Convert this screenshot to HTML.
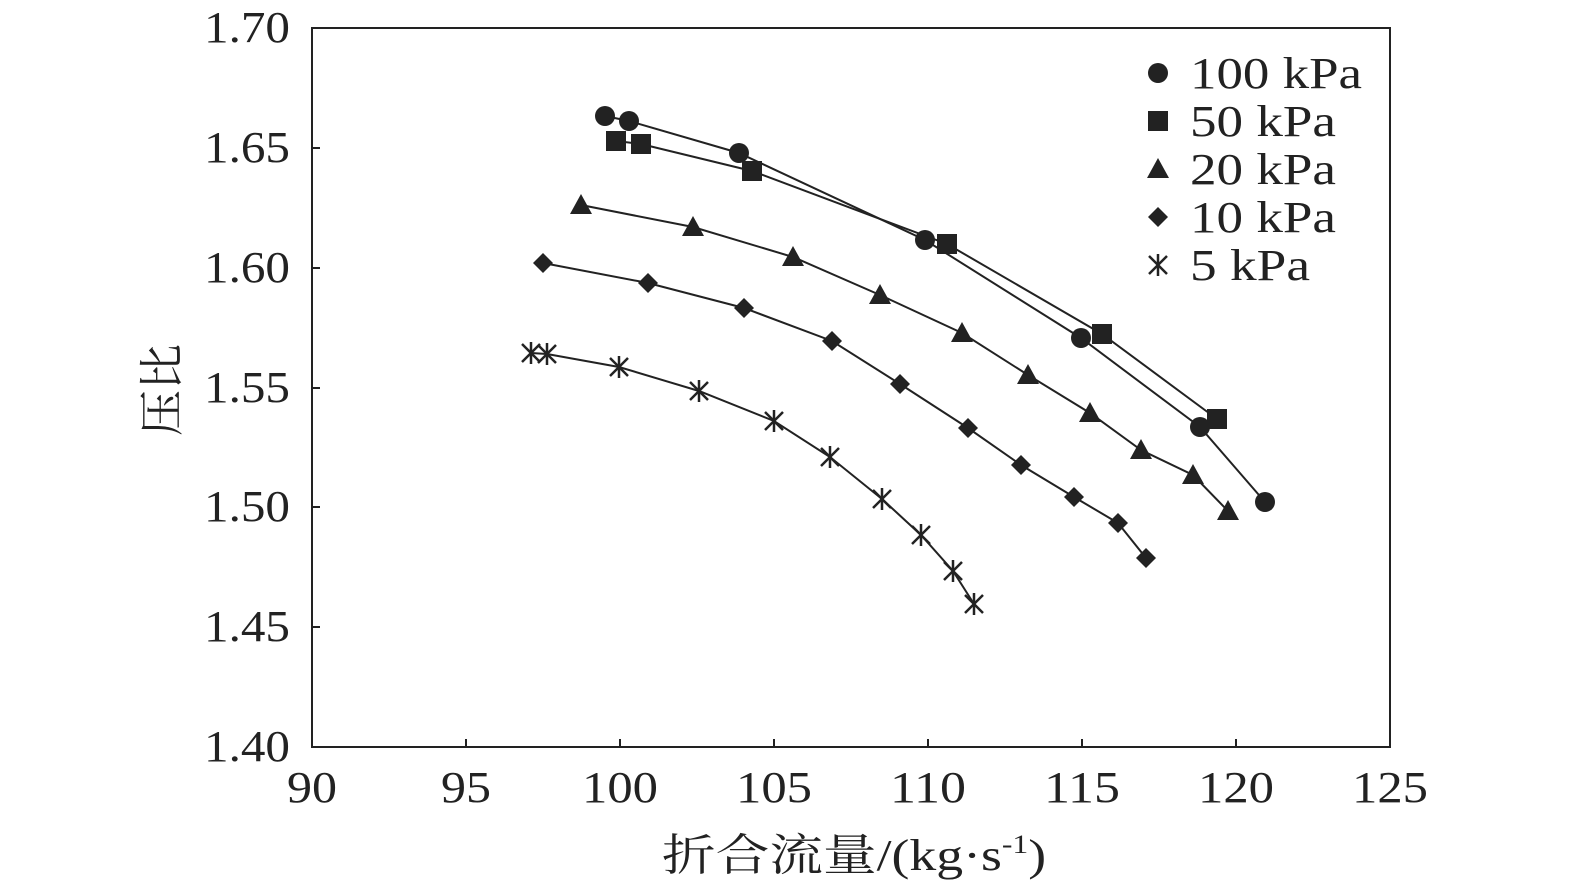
<!DOCTYPE html>
<html><head><meta charset="utf-8"><style>
body{margin:0;background:#fff}
text{font-family:"Liberation Serif","Noto Serif CJK SC",serif;fill:#222}
</style></head><body>
<svg width="1575" height="888" viewBox="0 0 1575 888" xmlns="http://www.w3.org/2000/svg">
<defs>
<g id="c"><circle r="10" fill="#222"/></g>
<g id="s"><rect x="-10" y="-10" width="20" height="20" fill="#222"/></g>
<g id="t"><polygon points="0,-11 11,9 -11,9" fill="#222"/></g>
<g id="d"><polygon points="0,-10 10,0 0,10 -10,0" fill="#222"/></g>
<g id="x" stroke="#222" stroke-width="2.5"><line x1="-9" y1="-9" x2="9" y2="9"/><line x1="-9" y1="9" x2="9" y2="-9"/><line x1="0" y1="-11" x2="0" y2="11"/></g>
</defs>
<rect x="312" y="28" width="1078" height="719" fill="none" stroke="#222" stroke-width="2"/>
<g stroke="#222" stroke-width="2">
<line x1="466" y1="747" x2="466" y2="739"/><line x1="620" y1="747" x2="620" y2="739"/><line x1="774" y1="747" x2="774" y2="739"/><line x1="928" y1="747" x2="928" y2="739"/><line x1="1082" y1="747" x2="1082" y2="739"/><line x1="1236" y1="747" x2="1236" y2="739"/>
<line x1="312" y1="148" x2="320" y2="148"/><line x1="312" y1="268" x2="320" y2="268"/><line x1="312" y1="388" x2="320" y2="388"/><line x1="312" y1="507" x2="320" y2="507"/><line x1="312" y1="627" x2="320" y2="627"/>
</g>
<g font-size="44" text-anchor="middle">
<text x="312" y="802" textLength="50" lengthAdjust="spacingAndGlyphs">90</text><text x="466" y="802" textLength="50" lengthAdjust="spacingAndGlyphs">95</text><text x="620" y="802" textLength="76" lengthAdjust="spacingAndGlyphs">100</text><text x="774" y="802" textLength="76" lengthAdjust="spacingAndGlyphs">105</text><text x="928" y="802" textLength="76" lengthAdjust="spacingAndGlyphs">110</text><text x="1082" y="802" textLength="76" lengthAdjust="spacingAndGlyphs">115</text><text x="1236" y="802" textLength="76" lengthAdjust="spacingAndGlyphs">120</text><text x="1390" y="802" textLength="76" lengthAdjust="spacingAndGlyphs">125</text>
</g>
<g font-size="44">
<text x="204" y="42" textLength="86" lengthAdjust="spacingAndGlyphs">1.70</text><text x="204" y="162" textLength="86" lengthAdjust="spacingAndGlyphs">1.65</text><text x="204" y="282" textLength="86" lengthAdjust="spacingAndGlyphs">1.60</text><text x="204" y="402" textLength="86" lengthAdjust="spacingAndGlyphs">1.55</text><text x="204" y="521" textLength="86" lengthAdjust="spacingAndGlyphs">1.50</text><text x="204" y="641" textLength="86" lengthAdjust="spacingAndGlyphs">1.45</text><text x="204" y="761" textLength="86" lengthAdjust="spacingAndGlyphs">1.40</text>
</g>
<text transform="translate(662,870) scale(1.22,1)" x="0" y="0" font-size="44">折合流量/(kg·s<tspan font-size="26" dy="-17">-1</tspan><tspan dy="17">)</tspan></text>
<text transform="translate(178,390) rotate(-90)" font-size="46" text-anchor="middle">压比</text>
<g fill="none" stroke="#222" stroke-width="2">
<polyline points="605,116 629,121 739,153 925,240 1081,338 1200,427 1265,502"/>
<polyline points="616,141 641,144 752,171 947,244 1102,334 1217,419"/>
<polyline points="581,205 693,227 793,257 880,295 962,333 1028,375 1090,413 1141,450 1193,475 1228,511"/>
<polyline points="543,263 648,283 744,308 832,341 900,384 968,428 1021,465 1074,497 1118,523 1146,558"/>
<polyline points="531,353 547,354 619,367 699,391 774,421 830,457 882,499 921,535 953,571 974,604"/>
</g>
<g>
<use href="#c" x="605" y="116"/><use href="#c" x="629" y="121"/><use href="#c" x="739" y="153"/><use href="#c" x="925" y="240"/><use href="#c" x="1081" y="338"/><use href="#c" x="1200" y="427"/><use href="#c" x="1265" y="502"/>
<use href="#s" x="616" y="141"/><use href="#s" x="641" y="144"/><use href="#s" x="752" y="171"/><use href="#s" x="947" y="244"/><use href="#s" x="1102" y="334"/><use href="#s" x="1217" y="419"/>
<use href="#t" x="581" y="205"/><use href="#t" x="693" y="227"/><use href="#t" x="793" y="257"/><use href="#t" x="880" y="295"/><use href="#t" x="962" y="333"/><use href="#t" x="1028" y="375"/><use href="#t" x="1090" y="413"/><use href="#t" x="1141" y="450"/><use href="#t" x="1193" y="475"/><use href="#t" x="1228" y="511"/>
<use href="#d" x="543" y="263"/><use href="#d" x="648" y="283"/><use href="#d" x="744" y="308"/><use href="#d" x="832" y="341"/><use href="#d" x="900" y="384"/><use href="#d" x="968" y="428"/><use href="#d" x="1021" y="465"/><use href="#d" x="1074" y="497"/><use href="#d" x="1118" y="523"/><use href="#d" x="1146" y="558"/>
<use href="#x" x="531" y="353"/><use href="#x" x="547" y="354"/><use href="#x" x="619" y="367"/><use href="#x" x="699" y="391"/><use href="#x" x="774" y="421"/><use href="#x" x="830" y="457"/><use href="#x" x="882" y="499"/><use href="#x" x="921" y="535"/><use href="#x" x="953" y="571"/><use href="#x" x="974" y="604"/>
</g>
<use href="#c" x="1158" y="73"/><use href="#s" x="1158" y="121"/><use href="#t" x="1158" y="169"/><use href="#d" x="1158" y="217"/><use href="#x" x="1158" y="265"/>
<g font-size="44">
<text x="1190" y="88" textLength="172" lengthAdjust="spacingAndGlyphs">100 kPa</text><text x="1190" y="136" textLength="146" lengthAdjust="spacingAndGlyphs">50 kPa</text><text x="1190" y="184" textLength="146" lengthAdjust="spacingAndGlyphs">20 kPa</text><text x="1190" y="232" textLength="146" lengthAdjust="spacingAndGlyphs">10 kPa</text><text x="1190" y="280" textLength="120" lengthAdjust="spacingAndGlyphs">5 kPa</text>
</g>
</svg>
</body></html>
